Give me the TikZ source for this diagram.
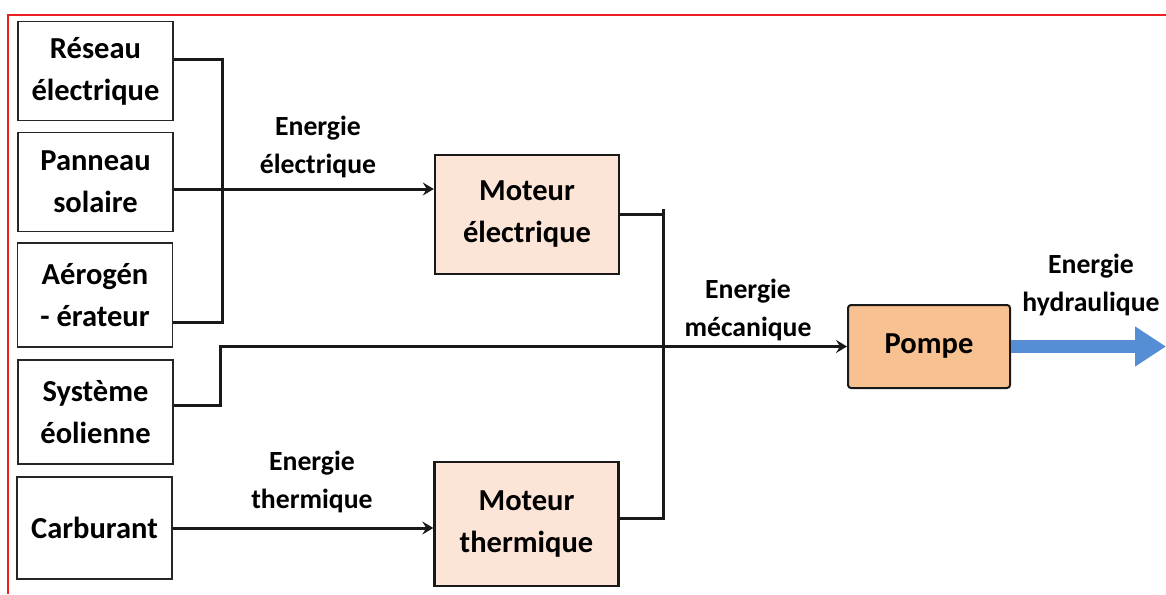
\documentclass[tikz,border=0pt]{standalone}
\usepackage{fontspec}
\setmainfont{Carlito}
\usepackage{tikz}
\usepackage{xcolor}
\usetikzlibrary{arrows.meta, positioning, calc}
\definecolor{cFrame}{RGB}{235,30,35}
\definecolor{cMotor}{RGB}{252,229,214}
\definecolor{cPump}{RGB}{248,193,145}
\definecolor{cHydro}{RGB}{85,142,213}
\tikzset{
	source/.style   ={rectangle, draw=black!85, line width=1.3pt, minimum width=155pt, text centered, align=center, font=\fontsize{30.5}{42}\selectfont\bfseries, inner sep=0pt},
	motor/.style    ={rectangle, draw=black!90, line width=2.4pt, minimum width=184pt, text centered, align=center, fill=cMotor, font=\fontsize{30.5}{42}\selectfont\bfseries, inner sep=0pt},
	pump/.style     ={rectangle, rounded corners=3pt, draw=black!90, line width=2pt, minimum width=162pt, minimum height=83pt, text centered, fill=cPump, font=\fontsize{30.5}{42}\selectfont\bfseries},
	lbl/.style      ={align=center, font=\fontsize{27.7}{38}\selectfont\bfseries},
	conn/.style     ={line width=3pt, black!90},
	flowarrow/.style={conn, -{Stealth[length=11pt, width=13pt, inset=4pt]}},
	hydroarrow/.style={draw=cHydro, line width=13pt, -{Triangle[length=31pt, width=38pt]}},
}

\begin{document}
\begin{tikzpicture}[x=1pt, y=-1pt]
	\useasboundingbox (0,0) rectangle (1166,594);
	% frame
	\draw[cFrame, line width=1.5pt] (8,594) -- (8,15) -- (1166,15);

	% sources
	\node[source, minimum height=99pt]  (reseau)    at (95.5,71)  {R\'eseau\\\'electrique};
	\node[source, minimum height=99pt]  (panneau)   at (95.5,182) {Panneau\\solaire};
	\node[source, minimum height=104pt] (aero)      at (95,295)   {A\'erog\'en\\- \'erateur};
	\node[source, minimum height=104pt] (systeme)   at (95.5,412) {Syst\`eme\\\'eolienne};
	\node[source, minimum height=102pt, line width=2.2pt] (carburant) at (94.5,528) {Carburant};

	% converters
	\node[motor, minimum height=119pt] (melec)  at (527,214.5) {Moteur\\\'electrique};
	\node[motor, minimum height=124pt] (mtherm) at (526.5,524) {Moteur\\thermique};
	\node[pump] (pompe) at (929,346.5) {Pompe};

	% buses
	\coordinate (ebus) at (222,189);
	\coordinate (sbus) at (220,346.5);
	\coordinate (mtop) at (663,209);
	\coordinate (hout) at (1166,346.5);

	\draw[conn] ([yshift=11pt]reseau.east) -| (ebus) |- ([yshift=-27pt]aero.east);
	\draw[flowarrow] (panneau.east |- ebus) -- (ebus -| melec.west);
	\draw[flowarrow] ([yshift=7pt]systeme.east) -| (sbus) -- (pompe.west);
	\draw[flowarrow] (carburant.east) -- (carburant.east -| mtherm.west);
	\draw[conn] (melec.east) -- (melec.east -| mtop);
	\draw[conn] (mtop) |- ([yshift=6pt]mtherm.east);
	\draw[hydroarrow] (pompe.east) -- (hout);

	% labels
	\node[lbl] (lelec)  at (318,147) {Energie\\\'electrique};
	\node[lbl] (lmeca)  at (748,310) {Energie\\m\'ecanique};
	\node[lbl] (ltherm) at (312,482) {Energie\\thermique};
	\node[lbl] (lhydro) at (1091,285) {Energie\\hydraulique};
\end{tikzpicture}
\end{document}
